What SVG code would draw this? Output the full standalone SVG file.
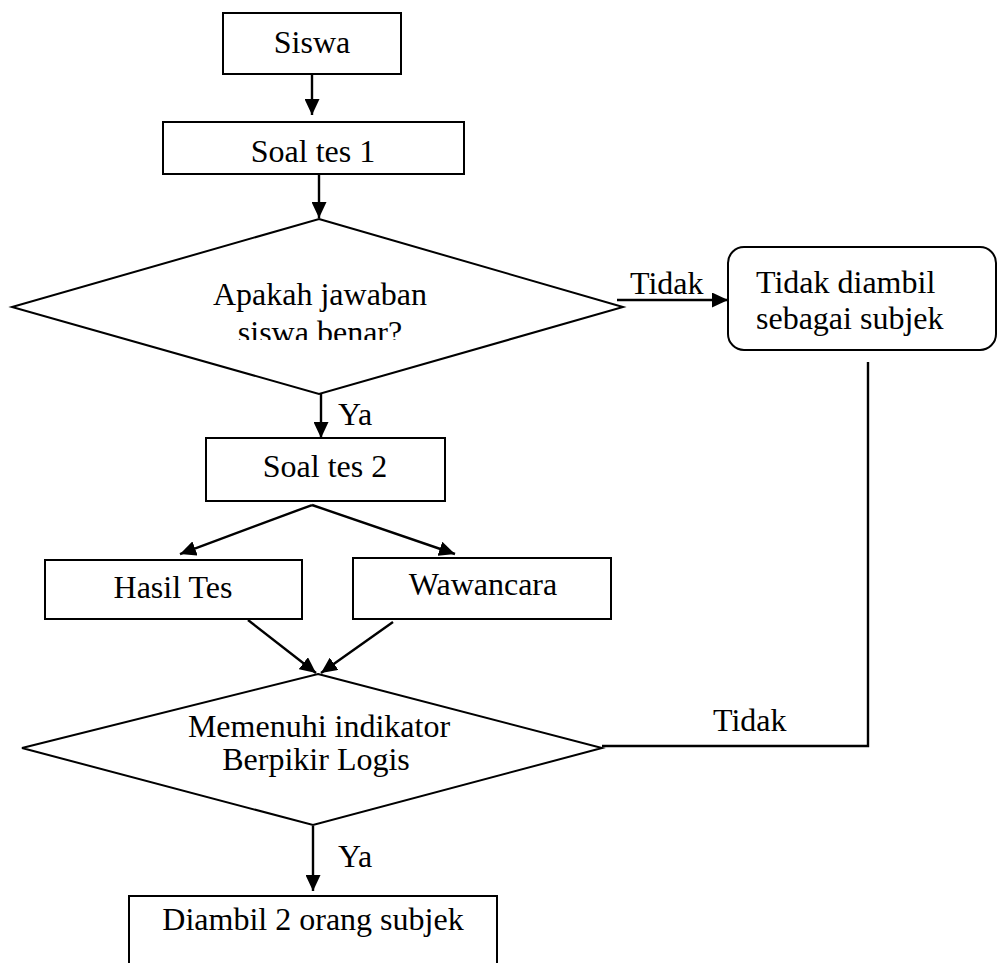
<svg xmlns="http://www.w3.org/2000/svg" width="997" height="963" viewBox="0 0 997 963">
<style>
.s{fill:#fff;stroke:#000;stroke-width:2}
.c{fill:none;stroke:#000;stroke-width:2.4}
.t{font-family:"Liberation Serif","Times New Roman",serif;font-size:32px;fill:#000}
.m{text-anchor:middle}
</style>
<defs>
<marker id="ah" markerUnits="userSpaceOnUse" markerWidth="16" markerHeight="15" refX="16" refY="7.5" orient="auto" viewBox="0 0 16 15">
<path d="M0,0 L16,7.5 L0,15 z" fill="#000"/>
</marker>
<clipPath id="clip1"><rect x="0" y="0" width="997" height="340"/></clipPath>
</defs>
<rect width="997" height="963" fill="#fff"/>
<g id="connectors">
<line class="c" x1="312" y1="74" x2="312" y2="115" marker-end="url(#ah)"/>
<line class="c" x1="319" y1="174" x2="319" y2="218" marker-end="url(#ah)"/>
<line class="c" x1="617" y1="300" x2="728" y2="300" marker-end="url(#ah)"/>
<line class="c" x1="321" y1="394" x2="321" y2="438" marker-end="url(#ah)"/>
<line class="c" x1="312" y1="505" x2="180" y2="554" marker-end="url(#ah)"/>
<line class="c" x1="312" y1="505" x2="455" y2="554" marker-end="url(#ah)"/>
<line class="c" x1="248" y1="620" x2="316" y2="673" marker-end="url(#ah)"/>
<line class="c" x1="393" y1="622" x2="321" y2="673" marker-end="url(#ah)"/>
<polyline class="c" points="602,746 868,746 868,362"/>
<line class="c" x1="313" y1="826" x2="313" y2="891" marker-end="url(#ah)"/>
<text class="t" x="630" y="294">Tidak</text>
<text class="t" x="338" y="425">Ya</text>
<text class="t" x="713" y="731">Tidak</text>
<text class="t" x="338" y="867">Ya</text>
</g>
<g id="siswa">
<rect class="s" x="223" y="13" width="178" height="61"/>
<text class="t m" x="312" y="53">Siswa</text>
</g>
<g id="soal1">
<rect class="s" x="163" y="122" width="301" height="52"/>
<text class="t m" x="313" y="162">Soal tes 1</text>
</g>
<g id="decision1">
<polygon class="s" points="319,219 623,307 319,394 12,307"/>
<text class="t m" x="320" y="305">Apakah jawaban</text>
<text class="t m" x="320" y="343" clip-path="url(#clip1)">siswa benar?</text>
</g>
<g id="tidakdiambil">
<rect class="s" x="728" y="247" width="268" height="103" rx="16" ry="16"/>
<text class="t" x="756" y="293">Tidak diambil</text>
<text class="t" x="756" y="329">sebagai subjek</text>
</g>
<g id="soal2">
<rect class="s" x="206" y="438" width="239" height="63"/>
<text class="t m" x="325" y="477">Soal tes 2</text>
</g>
<g id="hasiltes">
<rect class="s" x="45" y="560" width="257" height="59"/>
<text class="t m" x="173" y="598">Hasil Tes</text>
</g>
<g id="wawancara">
<rect class="s" x="353" y="558" width="258" height="61"/>
<text class="t m" x="483" y="595">Wawancara</text>
</g>
<g id="decision2">
<polygon class="s" points="318,674 602,748 313,825 22,748"/>
<text class="t m" x="319" y="737">Memenuhi indikator</text>
<text class="t m" x="316" y="770">Berpikir Logis</text>
</g>
<g id="diambil">
<polyline class="s" points="129,963 129,896 497,896 497,963"/>
<text class="t m" x="313" y="930">Diambil 2 orang subjek</text>
</g>
</svg>
